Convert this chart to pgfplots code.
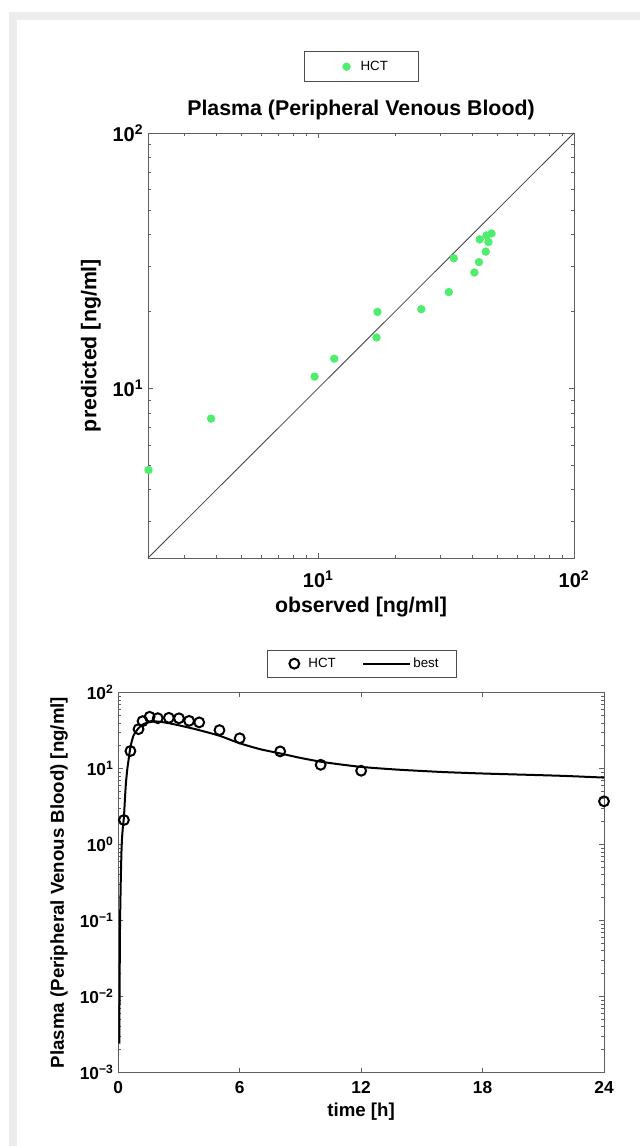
\documentclass[border=0pt]{standalone}
\usepackage{fontspec}
\setmainfont{Liberation Sans}
\usepackage{pgfplots}
\pgfplotsset{compat=1.18}
\definecolor{hctgreen}{RGB}{77,238,109}
\definecolor{framegray}{RGB}{236,238,238}
\definecolor{axgray}{RGB}{95,95,95}
\pgfplotsset{
  linelegend/.style={legend image code/.code={\draw[##1] (0cm,0cm) -- (1.22cm,0cm);}},
  greenlegend/.style={legend image code/.code={\path[draw=none,fill=none] (0cm,0cm) -- (0.7cm,0cm); \draw[##1] plot coordinates {(0.4cm,0cm)};}},
  circlelegend/.style={legend image code/.code={\path[draw=none,fill=none] (0cm,0cm) -- (0.6cm,0cm); \draw[##1] plot coordinates {(0.3cm,0cm)};}},
}

\begin{document}
\begin{tikzpicture}
\path[use as bounding box] (0,0) rectangle (480pt,-859.5pt);
\fill[framegray] (6.75pt,-9pt) rectangle (480pt,-859.5pt);
\fill[white] (12.75pt,-15pt) rectangle (480pt,-859.5pt);

% ---------------- top: predicted vs observed ----------------
\begin{axis}[
  at={(111pt,-99.75pt)}, anchor=north west,
  scale only axis, width=319.5pt, height=318.75pt,
  xmode=log, ymode=log,
  xmin=2.16, xmax=100, ymin=2.16, ymax=100,
  xtick={10,100}, ytick={10,100},
  xticklabels={10\textsuperscript{1},10\textsuperscript{2}},
  yticklabels={10\textsuperscript{1},10\textsuperscript{2}},
  minor xtick={3,4,5,6,7,8,9,20,30,40,50,60,70,80,90},
  minor ytick={3,4,5,6,7,8,9,20,30,40,50,60,70,80,90},
  xtick pos=both, ytick pos=both,
  tick align=inside, major tick length=4pt, minor tick length=2.5pt,
  axis line style={axgray}, every tick/.style={axgray},
  ticklabel style={font=\fontsize{15}{18}\selectfont\bfseries},
  xticklabel style={yshift=-6pt},
  xlabel={observed [ng/ml]}, ylabel={predicted [ng/ml]},
  label style={font=\fontsize{16}{19}\selectfont\bfseries},
  ylabel shift=2pt,
  title={Plasma (Peripheral Venous Blood)},
  title style={font=\fontsize{16}{19}\selectfont\bfseries},
  clip=false,
  legend style={at={(0.50,1.156)}, anchor=center, draw=black!70,
    font=\fontsize{10}{12}\selectfont, inner xsep=20.5pt, inner ysep=5pt},
]
\addplot[only marks, mark=*, mark size=2.9pt, color=hctgreen, greenlegend] table {
x y
2.17 4.78
3.81 7.6
9.68 11.1
11.55 13.05
17.05 19.9
16.9 15.8
25.3 20.4
32.4 23.8
33.9 32.3
40.8 28.4
42.5 31.2
45.2 34.3
42.8 38.3
45.5 39.7
46.3 37.4
47.6 40.4
};
\addlegendentry{HCT}
\addplot[black!75, line width=0.6pt, forget plot] coordinates {(2.16,2.16) (100,100)};
\end{axis}

% ---------------- bottom: time course ----------------
\begin{axis}[
  at={(88.7pt,-519.4pt)}, anchor=north west,
  scale only axis, width=364.3pt, height=284.9pt,
  ymode=log,
  xmin=0, xmax=24, ymin=0.001, ymax=100,
  xtick={0,6,12,18,24},
  xticklabels={0,6,12,18,24},
  ytick={0.001,0.01,0.1,1,10,100},
  yticklabels={10\textsuperscript{−3},10\textsuperscript{−2},10\textsuperscript{−1},10\textsuperscript{0},10\textsuperscript{1},10\textsuperscript{2}},
  minor ytick={0.002,0.003,0.004,0.005,0.006,0.007,0.008,0.009,
    0.02,0.03,0.04,0.05,0.06,0.07,0.08,0.09,
    0.2,0.3,0.4,0.5,0.6,0.7,0.8,0.9,
    2,3,4,5,6,7,8,9,20,30,40,50,60,70,80,90},
  xtick pos=both, ytick pos=both,
  tick align=inside, major tick length=3.5pt, minor tick length=2pt,
  axis line style={axgray}, every tick/.style={axgray},
  ticklabel style={font=\fontsize{13}{15}\selectfont\bfseries},
  xticklabel style={yshift=-3pt},
  xlabel={time [h]}, ylabel={Plasma (Peripheral Venous Blood) [ng/ml]},
  label style={font=\fontsize{14}{16}\selectfont\bfseries},
  ylabel shift=2pt,
  clip=false,
  legend columns=2,
  legend style={at={(0.502,1.076)}, anchor=center, draw=black!70,
    font=\fontsize{10}{12}\selectfont, inner xsep=11.5pt, inner ysep=3.6pt,
    /tikz/every even column/.append style={column sep=18pt}},
]
\addplot[only marks, mark=o, mark size=3.7pt, mark options={line width=1.5pt}, color=black, circlelegend] table {
x y
0.28 2.1
0.6 17
1.0 33
1.2 42
1.55 48
1.95 46
2.5 46.5
3.0 45.8
3.5 42.4
4.0 40.5
5.0 32
6.0 25
8.0 16.8
10.0 11.2
12.0 9.35
24.0 3.7
};
\addlegendentry{HCT}
\addplot[black, line width=1.5pt, smooth, tension=0.4, linelegend] table {
x y
0.05 0.0024
0.07 0.02
0.09 0.1
0.13 0.4
0.17 1.0
0.22 1.6
0.28 2.3
0.33 4
0.38 6.5
0.45 10
0.5 12.5
0.6 19
0.75 27
1.0 34
1.25 38.5
1.5 40.5
1.75 41.5
2.0 41.5
2.5 39.5
3.0 37
3.5 34.5
4.0 32
5.0 27
6.0 21.5
7.0 18
8.0 15.8
9.0 13.8
10.0 12.3
11.0 11.3
12.0 10.5
13.0 10
14.0 9.6
16.0 9.0
18.0 8.6
20.0 8.3
22.0 8.0
24.0 7.6
};
\addlegendentry{best}
\end{axis}
\end{tikzpicture}
\end{document}
